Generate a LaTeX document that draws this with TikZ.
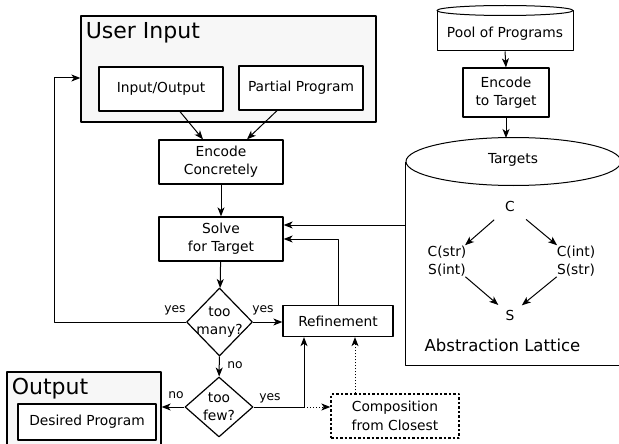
\documentclass[tikz,border=0pt]{standalone}
\usepackage{fontspec}
\setmainfont{DejaVu Sans}
\usetikzlibrary{arrows.meta,shapes.geometric}

\begin{document}
\begin{tikzpicture}[x=1pt, y=-1pt, line width=1pt, line join=round,
  arr/.style={-{Stealth[length=9pt,width=7pt,inset=2.5pt]}},
  txt/.style={font=\fontsize{13.8}{18.3}\selectfont, align=center, inner sep=0pt},
  lbl/.style={font=\fontsize{12.3}{14}\selectfont, inner sep=0pt},
  title/.style={font=\fontsize{22}{26}\selectfont, inner sep=0pt, anchor=base west},
  group/.style={draw, line width=1.3pt, fill=gray!6},
  box/.style={txt, draw, line width=1.3pt, fill=white},
  decision/.style={draw, diamond, inner sep=0pt, line width=1.2pt, fill=white},
  tentative/.style={box, dash pattern=on 2.5pt off 2pt},
]

  %% ════ 用户输入 ════
  \node[group, minimum width=295, minimum height=106] (userin) at (228.5,69) {};
  \node[title] (uititle) at ([xshift=5pt,yshift=-23pt]userin.north west) {User Input};
  \node[box, minimum width=124, minimum height=44] (io) at (161,89) {Input/Output};
  \node[box, minimum width=124, minimum height=44] (pp) at (301,88) {Partial Program};

  %% ════ 主流程 ════
  \node[box, minimum width=124, minimum height=44] (enc) at (221,162) {Encode\\Concretely};
  \node[box, minimum width=124, minimum height=44] (solve) at (221,239) {Solve\\for Target};
  \node[decision, minimum width=66, minimum height=68] (many) at (219.5,322) {};
  \node[txt] (manytxt) at (many) {too\\many?};
  \node[decision, minimum width=68, minimum height=60] (few) at (219,407) {};
  \node[txt] (fewtxt) at (few) {too\\few?};
  \node[box, minimum width=110, minimum height=31] (refine) at (338,321) {Refinement};
  \node[tentative, minimum width=128, minimum height=44] (comp) at (395,416) {Composition\\from Closest};

  %% ════ 输出（下边超出画布）════
  \node[group, minimum width=154, minimum height=100] (output) at (84,422) {};
  \node[title] (outtitle) at ([xshift=5pt,yshift=-23pt]output.north west) {Output};
  \node[box, minimum width=138, minimum height=36] (desired) at (87,422) {Desired Program};

  %% ════ 程序池（圆柱）════
  \node[draw, fill=white, minimum width=136, minimum height=40, inner sep=0pt] (pool) at (505,31) {};
  \draw[fill=white] (pool.north) ellipse [x radius=68, y radius=5];
  \node[txt] (pooltxt) at (505,33.5) {Pool of Programs};
  \node[box, minimum width=86, minimum height=49] (enctgt) at (506,92.5) {Encode\\to Target};

  %% ════ 目标（圆柱 + 格）════
  \node[minimum width=215, minimum height=203, inner sep=0pt] (targets) at (513.5,263.5) {};
  \draw[line width=1.3pt, fill=white] (targets.north west) -- (targets.south west)
    -- (targets.south east) -- (targets.north east);
  \draw[fill=white] (targets.north) ellipse [x radius=107.5, y radius=24];
  \node[txt] (tgttxt) at (513,160) {Targets};
  \coordinate (tgttop) at (506,138);

  \node[txt] (latC) at (510,206) {C};
  \node[txt] (latCS) at (447,261) {C(str)\\S(int)};
  \node[txt] (latCI) at (576,261) {C(int)\\S(str)};
  \node[txt] (latS) at (510,315) {S};
  \node[txt, font=\fontsize{16.5}{20}\selectfont] (lattice) at (502.5,345) {Abstraction Lattice};

  \draw[arr, shorten <=14pt] (latC) -- (latCS);
  \draw[arr, shorten <=14pt] (latC) -- (latCI);
  \draw[arr, shorten >=9pt] (latCS) -- (latS);
  \draw[arr, shorten >=9pt] (latCI) -- (latS);

  %% ════ 连线 ════
  \draw[arr] ([xshift=19pt]io.south) -- ([xshift=-18pt]enc.north);
  \draw[arr] ([xshift=-24pt]pp.south) -- ([xshift=26pt]enc.north);
  \draw[arr] (enc) -- (solve);
  \draw[arr] (solve) -- (many);
  \draw[arr] (many) -- (few);
  \draw[arr] (many.east) -- (many.east -| refine.west);
  \coordinate (back) at (54,78);
  \draw[arr] (many.west) -| (back) -- (back -| userin.west);
  \draw[arr] (refine.north) |- (solve.east);
  \draw[arr] ([yshift=14pt]solve.east -| targets.west) -- ([yshift=14pt]solve.east);
  \draw[arr] (few.west) -- (few.west -| output.east);
  \coordinate (split) at (304,407);
  \draw (few.east) -- (split);
  \draw[arr] (split) -- (split |- refine.south);
  \draw[arr, dotted] (split) -- (split -| comp.west);
  \draw[arr, dotted] ([xshift=-40pt]comp.north) -- ([xshift=-40pt]comp.north |- refine.south);
  \draw[arr] (pool.south) -- (enctgt.north);
  \draw[arr] (enctgt.south) -- (enctgt.south |- tgttop);

  %% ════ 分支标签 ════
  \node[lbl] (yesback) at (175,310) {yes};
  \node[lbl] (yesref) at (263,310) {yes};
  \node[lbl] (nofew) at (235,365) {no};
  \node[lbl] (noout) at (176,395) {no};
  \node[lbl] (yesfew) at (270,398) {yes};

  % 画布固定：超出的输出框和目标圆柱右边被裁掉
  \pgfresetboundingbox
  \useasboundingbox (0,0) rectangle (619,444);
\end{tikzpicture}
\end{document}
